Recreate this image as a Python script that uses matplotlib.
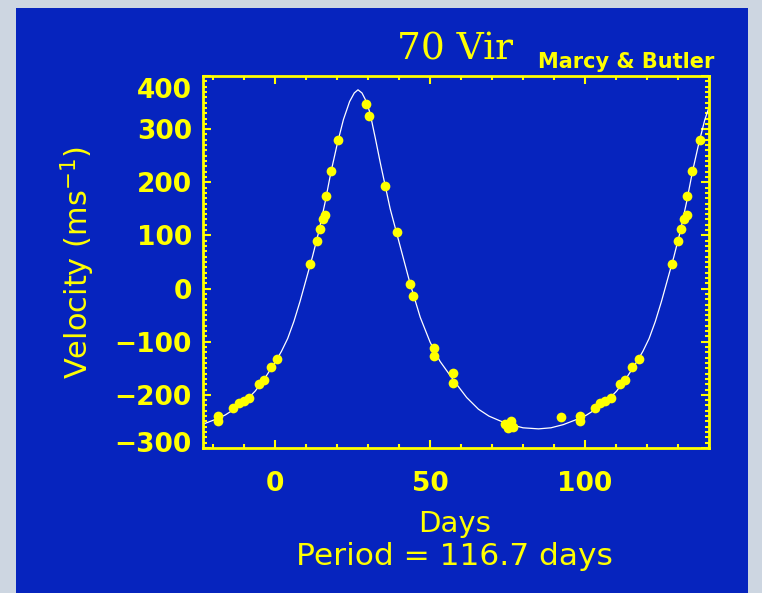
import numpy as np
import matplotlib
matplotlib.use('Agg')
import matplotlib.pyplot as plt
from matplotlib.patches import Rectangle
from matplotlib.ticker import MultipleLocator, FixedLocator
from matplotlib.transforms import ScaledTranslation

plt.rcParams['font.family'] = ['DejaVu Sans']
plt.rcParams['mathtext.fontset'] = 'dejavusans'

# ---------------- data ----------------
period = 116.7  # days

# observations, folded to one period (days since phase zero)
obs_day = [0.7, 11.3, 13.45, 14.35, 15.3, 16.1, 16.3, 17.9, 20.4,
           29.3, 30.4, 35.5, 39.2, 43.5, 44.6, 51.4, 51.4, 57.5, 57.5,
           74.2, 75.3, 76.0, 76.9, 92.3, 98.3, 98.3,
           103.2, 105.0, 106.5, 108.3, 111.3, 113.0, 115.2]
obs_vel = [-133, 47, 89, 112, 131, 138, 175, 222, 279,
           348, 325, 193, 106, 9, -14, -112, -126, -158, -178,
           -254, -262, -250, -261, -242, -239, -249,
           -224, -216, -211, -205, -179, -172, -147]

# fitted orbit curve, one period
curve_day = [0, 2, 4, 6, 8, 10, 12, 14, 16, 18, 20, 22, 24, 25.5, 26.7,
             28, 29.4, 30.6, 32.3, 34, 35.5, 37.1, 39.2, 41.4, 43.5, 46.8,
             50, 53.2, 57.5, 61.8, 65.6, 69, 72.6, 76, 80, 85, 89, 93, 97,
             100.5, 104, 107, 110.2, 113.4, 116.7]
curve_vel = [-138, -118, -94, -62, -24, 18, 60, 106, 160, 220, 272, 318, 352,
             368, 374, 368, 352, 330, 283, 234, 193, 150, 104, 55, 10, -54,
             -101, -137, -172, -205, -227, -240, -249, -256, -262, -264, -262,
             -256, -247, -238, -225, -212, -193, -168, -138]

x_ticks = [0, 50, 100]
x_tick_labels = ['0', '50', '100']
y_ticks = [-300, -200, -100, 0, 100, 200, 300, 400]
y_tick_labels = ['\u2212300', '\u2212200', '\u2212100', '0', '100', '200', '300', '400']

# ---------------- styling ----------------
BLUE = '#0624be'
YELLOW = '#ffff00'
W, H = 762, 593

fig = plt.figure(figsize=(W / 100, H / 100), dpi=100)
fig.patch.set_facecolor('#cdd6e1')
fig.patches.append(Rectangle((16 / W, 0), (748 - 16) / W, (H - 8) / H,
                             transform=fig.transFigure, facecolor=BLUE,
                             edgecolor='none', zorder=-1))

ax = fig.add_axes([203 / W, 1 - 448 / H, (709 - 203) / W, (448 - 76) / H])
ax.set_facecolor(BLUE)

# phase-repeated display range (-0.2 .. 1.2 of the period)
xmin, xmax = -0.2 * period, 1.2 * period

cd = np.asarray(curve_day)
cv = np.asarray(curve_vel)
ax.plot(np.concatenate([cd - period, cd, cd + period]),
        np.concatenate([cv, cv, cv]), color='white', lw=0.9, zorder=2)

od = np.asarray(obs_day)
ov = np.asarray(obs_vel)
xs = np.concatenate([od - period, od, od + period])
ys = np.concatenate([ov, ov, ov])
keep = (xs >= xmin) & (xs <= xmax)
ax.plot(xs[keep], ys[keep], 'o', ms=7.0, color=YELLOW, mew=0, zorder=3)

ax.set_xlim(xmin, xmax)
ax.set_ylim(-300, 400)

for s in ax.spines.values():
    s.set_color(YELLOW)
    s.set_linewidth(2.0)

ax.xaxis.set_major_locator(FixedLocator(x_ticks))
ax.set_xticklabels(x_tick_labels, fontweight='bold')
ax.xaxis.set_minor_locator(MultipleLocator(10))
ax.yaxis.set_major_locator(FixedLocator(y_ticks))
ax.set_yticklabels(y_tick_labels, fontweight='bold')
ax.yaxis.set_minor_locator(MultipleLocator(10))

ax.tick_params(which='both', direction='in', top=True, right=True,
               color=YELLOW, width=1.5)
ax.tick_params(which='major', length=5.8)
ax.tick_params(which='minor', length=3.0)
ax.tick_params(axis='x', which='major', labelsize=19, labelcolor=YELLOW, pad=16.5)
ax.tick_params(axis='y', which='major', labelsize=19, labelcolor=YELLOW, pad=8)

# end labels are pulled inward as in the original
ylabels = ax.get_yticklabels()
ylabels[-1].set_transform(ylabels[-1].get_transform() +
                          ScaledTranslation(0, -0.12, fig.dpi_scale_trans))
ylabels[0].set_transform(ylabels[0].get_transform() +
                         ScaledTranslation(0, 0.06, fig.dpi_scale_trans))

# texts
fig.text(455 / W, 1 - 60 / H, '70 Vir', color=YELLOW, fontsize=27,
         family='DejaVu Serif', ha='center', va='baseline')
fig.text(538 / W, 1 - 68 / H, 'Marcy & Butler', color=YELLOW, fontsize=15,
         fontweight='bold', ha='left', va='baseline')
fig.text(78 / W, 1 - 262 / H, 'Velocity (ms$^{-1}$)', color=YELLOW,
         fontsize=22, rotation=90, ha='center', va='center')
fig.text(455 / W, 1 - 532 / H, 'Days', color=YELLOW, fontsize=21,
         ha='center', va='baseline')
fig.text(454 / W, 1 - 565 / H, 'Period = 116.7 days', color=YELLOW,
         fontsize=22.5, ha='center', va='baseline')

fig.savefig('out.png', dpi=100, facecolor=fig.get_facecolor())
